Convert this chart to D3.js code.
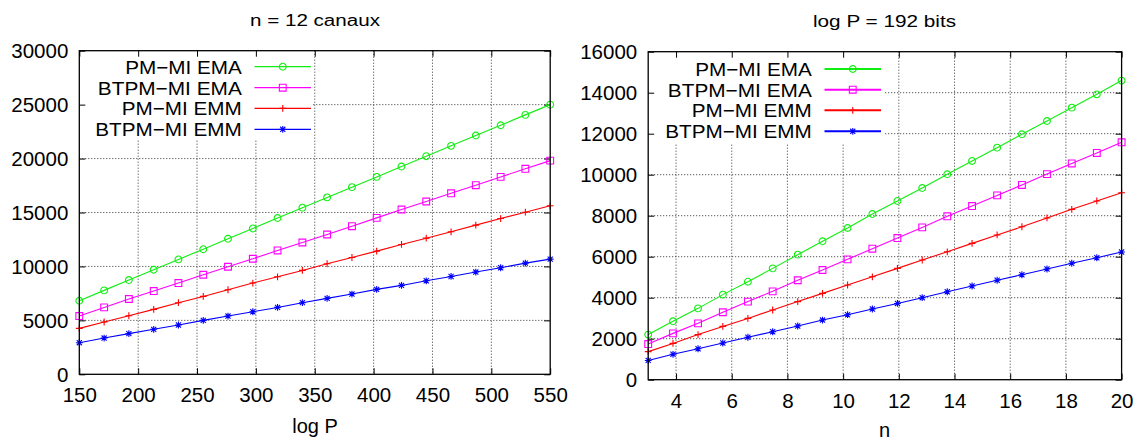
<!DOCTYPE html>
<html>
<head>
<meta charset="utf-8">
<script src="https://cdn.jsdelivr.net/npm/d3@7"></script>
<style>
  html, body { margin: 0; padding: 0; background: #fff; }
  svg { display: block; }
  text { font-family: 'Liberation Sans', Arial, Helvetica, sans-serif; fill: #000; }
</style>
</head>
<body>
<svg id="chart" width="1142" height="441"></svg>
<script>
// ---------- data ----------
const seriesNames = ["PM\u2212MI EMA", "BTPM\u2212MI EMA", "PM\u2212MI EMM", "BTPM\u2212MI EMM"];

// Left panel: n = 12 canaux, x = log P
const leftTitle = "n = 12 canaux";
const leftXLabel = "log P";
const leftX = [150, 171.1, 192.1, 213.2, 234.2, 255.3, 276.3, 297.4, 318.4, 339.5,
               360.5, 381.6, 402.6, 423.7, 444.7, 465.8, 486.8, 507.9, 528.9, 550];
const leftPMEMA   = [6820, 7780, 8740, 9690, 10650, 11600, 12560, 13520, 14490, 15450,
                     16400, 17350, 18300, 19260, 20220, 21180, 22140, 23090, 24050, 25000];
const leftBTPMEMA = [5400, 6200, 6980, 7720, 8460, 9230, 9970, 10710, 11480, 12220,
                     12960, 13730, 14500, 15280, 16020, 16780, 17530, 18300, 19050, 19810];
const leftPMEMM   = [4260, 4850, 5430, 6020, 6640, 7220, 7840, 8460, 9040, 9630,
                     10250, 10830, 11420, 12040, 12620, 13210, 13830, 14440, 15030, 15620];
const leftBTPMEMM = [2930, 3360, 3770, 4170, 4570, 5000, 5400, 5800, 6200, 6640,
                     7040, 7440, 7870, 8240, 8670, 9070, 9480, 9880, 10310, 10680];
const leftXTicks = [150, 200, 250, 300, 350, 400, 450, 500, 550];
const leftYTicks = [0, 5000, 10000, 15000, 20000, 25000, 30000];

// Right panel: log P = 192 bits, x = n
const rightTitle = "log P = 192 bits";
const rightXLabel = "n";
const rightX = [3, 3.89, 4.79, 5.68, 6.58, 7.47, 8.37, 9.26, 10.16, 11.05,
                11.95, 12.84, 13.74, 14.63, 15.53, 16.42, 17.32, 18.21, 19.11, 20];
const rightPMEMA   = [2200, 2850, 3480, 4150, 4780, 5430, 6100, 6750, 7400, 8080,
                      8720, 9350, 10020, 10670, 11320, 11970, 12620, 13270, 13920, 14590];
const rightBTPMEMA = [1740, 2260, 2750, 3290, 3810, 4310, 4850, 5350, 5870, 6390,
                      6910, 7430, 7970, 8470, 8990, 9500, 10030, 10550, 11060, 11580];
const rightPMEMM   = [1370, 1770, 2200, 2600, 2990, 3400, 3810, 4210, 4620, 5020,
                      5430, 5840, 6240, 6650, 7060, 7460, 7890, 8310, 8720, 9120];
const rightBTPMEMM = [940, 1240, 1510, 1790, 2070, 2340, 2620, 2910, 3170, 3450,
                      3720, 4000, 4290, 4570, 4850, 5120, 5400, 5680, 5950, 6230];
const rightXTicks = [4, 6, 8, 10, 12, 14, 16, 18, 20];
const rightYTicks = [0, 2000, 4000, 6000, 8000, 10000, 12000, 14000, 16000];

// ---------- styles ----------
const colors = ["#11ee11", "#ff00ff", "#ff0000", "#0000ff"];
const markerTypes = ["circle", "square", "plus", "star"];
const tickFont = 20.5;
const keyFont = 18.6;
const keyTextWidths = [116.5, 144, 120, 146.5];

function markerPath(type) {
  const r = 3.4;
  if (type === "circle") return d3.symbol(d3.symbolCircle, Math.PI * r * r)();
  if (type === "square") return `M${-r},${-r}H${r}V${r}H${-r}Z`;
  if (type === "plus") return `M${-r},0H${r}M0,${-r}V${r}`;
  const d = r * 0.75;
  return `M${-r},0H${r}M0,${-r}V${r}M${-d},${-d}L${d},${d}M${-d},${d}L${d},${-d}`;
}

const svg = d3.select("#chart");

function panel(o) {
  const g = svg.append("g");
  const x = d3.scaleLinear().domain(o.xDomain).range([o.left, o.right]);
  const y = d3.scaleLinear().domain(o.yDomain).range([o.bottom, o.top]);

  // grid
  const grid = g.append("g").attr("stroke", "#333").attr("stroke-width", 1)
    .attr("stroke-dasharray", "1,2");
  grid.selectAll(".gx").data(o.xTicks.filter(v => v > o.xDomain[0] && v < o.xDomain[1]))
    .join("line").attr("x1", d => x(d)).attr("x2", d => x(d))
    .attr("y1", o.top).attr("y2", o.bottom);
  grid.selectAll(".gy").data(o.yTicks.filter(v => v > o.yDomain[0] && v < o.yDomain[1]))
    .join("line").attr("y1", d => y(d)).attr("y2", d => y(d))
    .attr("x1", o.left).attr("x2", o.right);

  // opaque key box
  g.append("rect").attr("x", o.left).attr("y", o.top)
    .attr("width", o.keyRight - o.left).attr("height", o.keyBottom - o.top)
    .attr("fill", "#fff");

  // axes (ticks inward, mirrored)
  const bottomAx = g.append("g").attr("transform", `translate(0,${o.bottom})`)
    .call(d3.axisBottom(x).tickValues(o.xTicks).tickSizeInner(-6).tickSizeOuter(0)
      .tickPadding(o.xTickPad).tickFormat(d3.format("d")));
  const topAx = g.append("g").attr("transform", `translate(0,${o.top})`)
    .call(d3.axisTop(x).tickValues(o.xTicks).tickSizeInner(-6).tickSizeOuter(0).tickFormat(""));
  const leftAx = g.append("g").attr("transform", `translate(${o.left},0)`)
    .call(d3.axisLeft(y).tickValues(o.yTicks).tickSizeInner(-6).tickSizeOuter(0)
      .tickPadding(11).tickFormat(d3.format("d")));
  const rightAx = g.append("g").attr("transform", `translate(${o.right},0)`)
    .call(d3.axisRight(y).tickValues(o.yTicks).tickSizeInner(-6).tickSizeOuter(0).tickFormat(""));
  [bottomAx, topAx, leftAx, rightAx].forEach(a => {
    a.select(".domain").remove();
    a.selectAll(".tick line").attr("stroke", "#000").attr("stroke-width", 1);
    a.selectAll("text").attr("font-size", tickFont)
      .style("font-family", "'Liberation Sans', Arial, Helvetica, sans-serif");
  });
  leftAx.selectAll("text").attr("dy", "0.34em");

  // data lines & markers
  o.series.forEach((vals, i) => {
    const pts = o.xs.map((xv, k) => [xv, vals[k]]);
    g.append("path").datum(pts)
      .attr("fill", "none").attr("stroke", colors[i]).attr("stroke-width", 1.1)
      .attr("d", d3.line().x(d => x(d[0])).y(d => y(d[1])));
    g.append("g").selectAll("path").data(pts).join("path")
      .attr("transform", d => `translate(${x(d[0])},${y(d[1])})`)
      .attr("d", markerPath(markerTypes[i]))
      .attr("fill", "none").attr("stroke", colors[i]).attr("stroke-width", 1.1);
  });

  // frame
  g.append("rect").attr("x", o.left).attr("y", o.top)
    .attr("width", o.right - o.left).attr("height", o.bottom - o.top)
    .attr("fill", "none").attr("stroke", "#000").attr("stroke-width", 1.3);

  // legend
  seriesNames.forEach((name, i) => {
    const ry = o.keyRows[i];
    g.append("text").attr("x", o.keyTextRight).attr("y", ry).attr("dy", "0.37em")
      .attr("text-anchor", "end").attr("font-size", keyFont)
      .attr("textLength", keyTextWidths[i]).attr("lengthAdjust", "spacingAndGlyphs")
      .text(name);
    g.append("line").attr("x1", o.keyLine[0]).attr("x2", o.keyLine[1])
      .attr("y1", ry).attr("y2", ry).attr("stroke", colors[i]).attr("stroke-width", o.keyLineW);
    g.append("path").attr("transform", `translate(${(o.keyLine[0] + o.keyLine[1]) / 2},${ry})`)
      .attr("d", markerPath(markerTypes[i]))
      .attr("fill", "none").attr("stroke", colors[i]).attr("stroke-width", 1.1);
  });

  // title and x label
  g.append("text").attr("x", o.titleX).attr("y", o.titleY).attr("text-anchor", "middle")
    .attr("font-size", 16).attr("textLength", o.titleLen).attr("lengthAdjust", "spacingAndGlyphs")
    .text(o.title);
  g.append("text").attr("x", o.titleX).attr("y", o.xLabelY).attr("text-anchor", "middle")
    .attr("font-size", 20).text(o.xLabel);
}

panel({
  xDomain: [150, 550], yDomain: [0, 30000],
  left: 79.3, right: 550.2, top: 50.7, bottom: 374.3,
  xTicks: leftXTicks, yTicks: leftYTicks, xTickPad: 13.5,
  xs: leftX, series: [leftPMEMA, leftBTPMEMA, leftPMEMM, leftBTPMEMM],
  keyRight: 313, keyBottom: 140,
  keyRows: [66.7, 87.7, 108.3, 129.3], keyTextRight: 241.8, keyLine: [254.5, 311], keyLineW: 1.3,
  title: leftTitle, titleX: 315, titleY: 26, titleLen: 130,
  xLabel: leftXLabel, xLabelY: 433
});

panel({
  xDomain: [3, 20], yDomain: [0, 16000],
  left: 648.2, right: 1121.6, top: 51.7, bottom: 379.7,
  xTicks: rightXTicks, yTicks: rightYTicks, xTickPad: 13.5,
  xs: rightX, series: [rightPMEMA, rightBTPMEMA, rightPMEMM, rightBTPMEMM],
  keyRight: 885, keyBottom: 143,
  keyRows: [69, 89.7, 110.3, 131.3], keyTextRight: 811.8, keyLine: [824.5, 881], keyLineW: 2,
  title: rightTitle, titleX: 884.5, titleY: 27, titleLen: 143,
  xLabel: rightXLabel, xLabelY: 436.5
});
</script>
</body>
</html>
